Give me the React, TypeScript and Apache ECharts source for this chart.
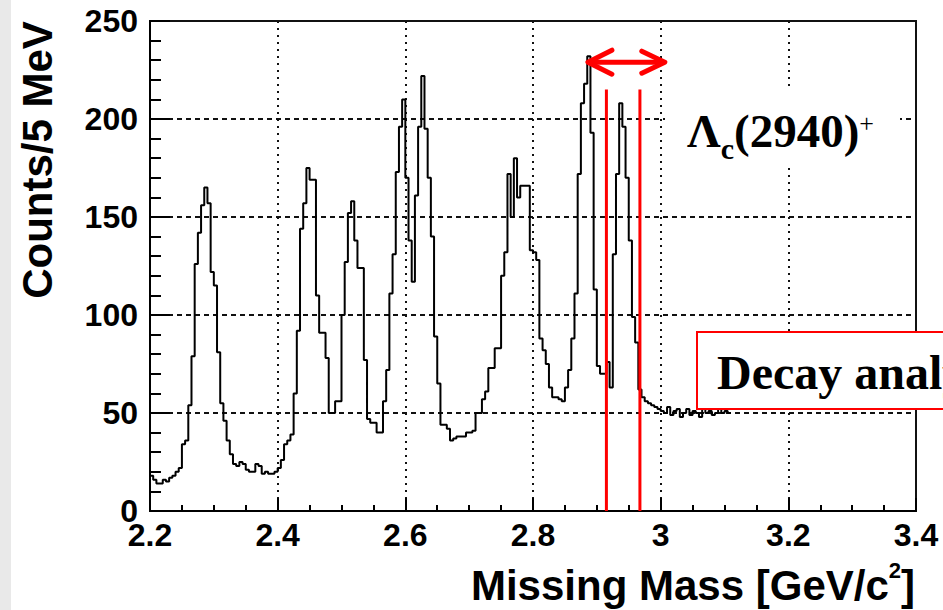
import React, { useEffect, useRef } from "react";
import * as echarts from "echarts";

// Histogram: counts per 5 MeV bin, starting at 2.200 GeV/c^2
const binStart = 2.2;
const binWidth = 0.005;
const counts = [
  18, 16, 14, 14, 16, 15, 17, 18, 20, 22,
  34, 36, 54, 79, 126, 142, 156, 165, 157, 122,
  115, 81, 55, 46, 36, 29, 24, 23, 25, 24,
  21, 20, 20, 24, 23, 19, 20, 19, 19, 20,
  22, 26, 34, 36, 39, 60, 92, 144, 157, 175,
  169, 169, 110, 91, 91, 78, 50, 50, 56, 56,
  100, 127, 152, 158, 138, 124, 124, 77, 47, 45,
  45, 40, 40, 56, 72, 111, 131, 173, 196, 210,
  170, 138, 117, 161, 196, 222, 195, 170, 140, 89,
  65, 44, 44, 42, 36, 37, 38, 38, 38, 40,
  40, 41, 50, 50, 57, 61, 73, 73, 83, 83,
  120, 132, 172, 150, 180, 160, 166, 166, 166, 133,
  132, 128, 88, 82, 75, 63, 58, 58, 57, 56,
  63, 72, 88, 111, 172, 208, 218, 232, 193, 113,
  74, 70, 70, 76, 63, 131, 172, 208, 196, 170,
  138, 99, 86, 62, 58, 56, 55, 54, 53, 52,
  51, 50, 53, 49, 51, 52, 48, 50, 52, 49,
  51, 50, 48, 52, 50, 51, 49, 50, 52, 50,
  51, 50,
];

// Axes
const xMin = 2.2;
const xMax = 3.4;
const xStep = 0.2;
const yMin = 0;
const yMax = 250;
const yStep = 50;

// Annotations (data coordinates)
const cutLines = [2.915, 2.9675];
const cutTop = 215;
const arrowRange = [2.886, 3.0065];
const arrowLevel = 229;

const xTitleMain = "Missing Mass [GeV/c";
const xTitleSup = "2";
const xTitleEnd = "]";
const yTitle = "Counts/5 MeV";
const stateName = "Λ";
const stateSub = "c";
const stateMass = "(2940)";
const stateSup = "+";
const boxText = "Decay analysis";

const SANS = '"Liberation Sans", Arial, Helvetica, sans-serif';
const SERIF = '"Liberation Serif", "Times New Roman", serif';

export default function App() {
  const ref = useRef<HTMLDivElement>(null);

  useEffect(() => {
    const chart = echarts.init(ref.current!, null, { renderer: "svg" });

    const histData: number[][] = counts.map((v, i) => [
      +(binStart + i * binWidth).toFixed(4),
      v,
    ]);
    histData.push([
      +(binStart + counts.length * binWidth).toFixed(4),
      counts[counts.length - 1],
    ]);

    const red = "#ff0000";
    const axisLabel = {
      fontSize: 32,
      fontWeight: "bold" as const,
      fontFamily: SANS,
      color: "#000",
    };

    const option: any = {
      animation: false,
      backgroundColor: "#fff",
      grid: {
        left: 150,
        right: 27,
        top: 21,
        bottom: 99,
        show: true,
        borderColor: "#111",
        borderWidth: 2,
        backgroundColor: "transparent",
      },
      xAxis: {
        type: "value",
        min: xMin,
        max: xMax,
        interval: xStep,
        axisLine: { show: true, onZero: false, lineStyle: { color: "#000", width: 2 } },
        axisTick: { show: true, inside: true, length: 13, lineStyle: { color: "#000", width: 2 } },
        minorTick: { show: true, splitNumber: 4, length: 6, lineStyle: { color: "#000", width: 2 } },
        splitLine: { show: true, lineStyle: { color: "#111", width: 2, type: [2, 5] } },
        axisLabel: { ...axisLabel, margin: 8, showMinLabel: true, showMaxLabel: true },
      },
      yAxis: {
        type: "value",
        min: yMin,
        max: yMax,
        interval: yStep,
        axisLine: { show: true, onZero: false, lineStyle: { color: "#000", width: 2 } },
        axisTick: { show: true, inside: true, length: 20, lineStyle: { color: "#000", width: 2 } },
        minorTick: { show: true, splitNumber: 5, length: 11, lineStyle: { color: "#000", width: 2 } },
        splitLine: { show: true, lineStyle: { color: "#111", width: 2, type: [5, 4] } },
        axisLabel: { ...axisLabel, margin: 12, showMinLabel: true, showMaxLabel: true },
      },
      series: [
        {
          type: "line",
          data: histData,
          step: "end",
          symbol: "none",
          lineStyle: { color: "#000", width: 2 },
          z: 3,
          silent: true,
        },
        ...cutLines.map((c) => ({
          type: "line",
          data: [
            [c, yMin],
            [c, cutTop],
          ],
          symbol: "none",
          lineStyle: { color: red, width: 3 },
          z: 5,
          silent: true,
        })),
        {
          type: "custom",
          data: [[arrowRange[0], arrowRange[1], arrowLevel]],
          encode: { x: [0, 1], y: 2 },
          z: 6,
          silent: true,
          renderItem: (_params: any, api: any) => {
            const a = api.coord([api.value(0), api.value(2)]);
            const b = api.coord([api.value(1), api.value(2)]);
            const st = {
              stroke: red,
              lineWidth: 5,
              fill: "none",
              lineCap: "round",
              lineJoin: "round",
            };
            return {
              type: "group",
              children: [
                { type: "line", shape: { x1: a[0] + 2, y1: a[1], x2: b[0] - 2, y2: b[1] }, style: st },
                {
                  type: "polyline",
                  shape: { points: [[a[0] + 24, a[1] - 12], [a[0], a[1]], [a[0] + 24, a[1] + 12]] },
                  style: st,
                },
                {
                  type: "polyline",
                  shape: { points: [[b[0] - 23, b[1] - 11], [b[0], b[1]], [b[0] - 23, b[1] + 11]] },
                  style: st,
                },
              ],
            };
          },
        },
      ],
      graphic: [
        {
          type: "rect",
          z: -10,
          shape: { x: 0, y: 0, width: 11, height: 610 },
          style: { fill: "#e9e9e9" },
        },
        {
          type: "rect",
          z: 10,
          shape: { x: 665, y: 90, width: 235, height: 77 },
          style: { fill: "#fff" },
        },
        {
          type: "text",
          z: 11,
          x: 687,
          y: 106,
          style: {
            text: `{L|${stateName}}{s|${stateSub}}{L|${stateMass}}{p|${stateSup}}`,
            fill: "#000",
            align: "left",
            verticalAlign: "top",
            textAlign: "left",
            textVerticalAlign: "top",
            rich: {
              L: { fontSize: 47, fontWeight: "bold", fontFamily: SERIF, lineHeight: 50, fill: "#000" },
              s: {
                fontSize: 30,
                fontWeight: "bold",
                fontFamily: SERIF,
                lineHeight: 50,
                height: 16,
                verticalAlign: "bottom",
                fill: "#000",
              },
              p: {
                fontSize: 26,
                fontWeight: "normal",
                fontFamily: SERIF,
                lineHeight: 50,
                height: 34,
                verticalAlign: "top",
                fill: "#000",
              },
            },
          },
        },
        {
          type: "rect",
          z: 10,
          shape: { x: 697, y: 332, width: 320, height: 77 },
          style: { fill: "#fff", stroke: red, lineWidth: 2 },
        },
        {
          type: "text",
          z: 11,
          x: 717,
          y: 372,
          style: {
            text: boxText,
            fill: "#000",
            font: `bold 48px ${SERIF}`,
            align: "left",
            verticalAlign: "middle",
            textAlign: "left",
            textVerticalAlign: "middle",
          },
        },
        {
          type: "text",
          z: 11,
          x: 37,
          y: 160,
          rotation: Math.PI / 2,
          style: {
            text: yTitle,
            fill: "#000",
            font: `bold 42px ${SANS}`,
            align: "center",
            verticalAlign: "middle",
            textAlign: "center",
            textVerticalAlign: "middle",
          },
        },
        {
          type: "text",
          z: 11,
          x: 915,
          y: 560,
          style: {
            text: `{a|${xTitleMain}}{s|${xTitleSup}}{a|${xTitleEnd}}`,
            fill: "#000",
            align: "right",
            verticalAlign: "top",
            textAlign: "right",
            textVerticalAlign: "top",
            rich: {
              a: { fontSize: 42, fontWeight: "bold", fontFamily: SANS, lineHeight: 50, fill: "#000" },
              s: {
                fontSize: 22,
                fontWeight: "bold",
                fontFamily: SANS,
                lineHeight: 50,
                height: 20,
                verticalAlign: "top",
                fill: "#000",
              },
            },
          },
        },
      ],
    };

    chart.setOption(option);
    return () => chart.dispose();
  }, []);

  return (
    <div
      ref={ref}
      style={{ position: "fixed", left: 0, top: 0, width: 943, height: 610, background: "#fff" }}
    />
  );
}
